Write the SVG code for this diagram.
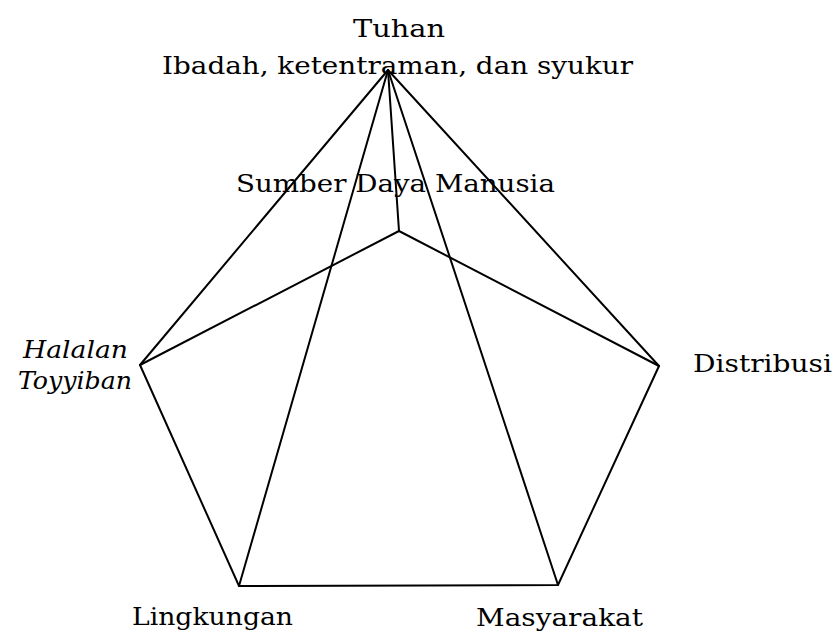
<svg xmlns="http://www.w3.org/2000/svg" width="834" height="637" viewBox="0 0 834 637">
<style>
.l{stroke:#000;stroke-width:2;fill:none;stroke-linecap:round;stroke-linejoin:miter}
.t{font-family:"DejaVu Serif","Liberation Serif",serif;font-size:23.5px;fill:#000}
.p{font-family:"DejaVu Serif","Liberation Serif",serif;font-size:24px;fill:#000}
.i{font-style:italic}
</style>
<rect width="834" height="637" fill="#fff"/>
<g id="connectors">
<line class="l" x1="388" y1="70" x2="140" y2="365"/>
<line class="l" x1="388" y1="70" x2="659" y2="366"/>
<line class="l" x1="388" y1="70" x2="239" y2="586"/>
<line class="l" x1="388" y1="70" x2="558" y2="585"/>
<line class="l" x1="388" y1="70" x2="399" y2="231"/>
<line class="l" x1="399" y1="231" x2="140" y2="365"/>
<line class="l" x1="399" y1="231" x2="659" y2="366"/>
<polyline class="l" points="140,365 239,586 558,585 659,366"/>
</g>
<g id="tuhan">
<text class="t" x="353" y="37" textLength="92" lengthAdjust="spacingAndGlyphs">Tuhan</text>
<text class="t" x="162" y="74" textLength="471" lengthAdjust="spacingAndGlyphs">Ibadah,  ketentraman, dan syukur</text>
</g>
<g id="sdm">
<text class="t" x="236" y="192" textLength="319" lengthAdjust="spacingAndGlyphs">Sumber Daya Manusia</text>
</g>
<g id="halalan">
<text class="p i" x="23" y="358" textLength="105" lengthAdjust="spacingAndGlyphs">Halalan</text>
<text class="p i" x="18" y="389" textLength="114" lengthAdjust="spacingAndGlyphs">Toyyiban</text>
</g>
<g id="distribusi">
<text class="t" x="693" y="372" textLength="139" lengthAdjust="spacingAndGlyphs">Distribusi</text>
</g>
<g id="lingkungan">
<text class="p" x="132" y="625" textLength="161" lengthAdjust="spacingAndGlyphs">Lingkungan</text>
</g>
<g id="masyarakat">
<text class="p" x="476" y="626" textLength="167" lengthAdjust="spacingAndGlyphs">Masyarakat</text>
</g>
</svg>
